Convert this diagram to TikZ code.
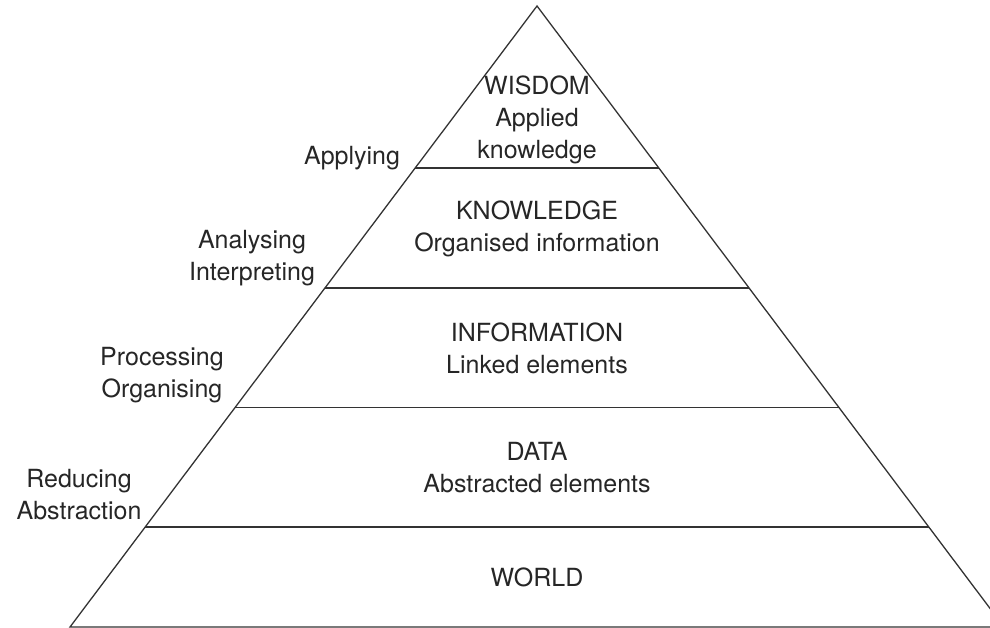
\documentclass[tikz,border=0pt]{standalone}
\usepackage{fontspec}
\setmainfont{TeX Gyre Heros}
\usetikzlibrary{calc}
\begin{document}
\begin{tikzpicture}[x=1pt,y=-1pt]
	\tikzstyle{every node}=[font=\fontsize{25}{32}\selectfont, text=black!85, align=center, inner sep=0pt]
	\tikzstyle{level}=[draw=black!80, line width=1.3pt]
	\useasboundingbox (0,0) rectangle (990,628);
	\clip (0,0) rectangle (990,628);
	\coordinate (apex) at (537,6);
	\coordinate (bl) at (70,627);
	\coordinate (br) at (1004,627);
	\draw[level] (bl) -- (apex) -- (br) -- cycle;
	% the four cuts of the pyramid
	\foreach \t in {0.161,0.354,0.546,0.739}{
		\draw[level] ($(bl)!\t!(apex)$) -- ($(br)!\t!(apex)$);
	}
	\node (wisdom) at (537,120) {WISDOM\\Applied\\knowledge};
	\node (knowledge) at (537,229) {KNOWLEDGE\\Organised information};
	\node (information) at (537,348) {INFORMATION\\Linked elements};
	\node (data) at (537,468) {DATA\\Abstracted elements};
	\node (world) at (537,577) {WORLD};
	% processes on the left
	\node (applying) at (352,158) {Applying};
	\node (analysing) at (252,258) {Analysing\\Interpreting};
	\node (processing) at (162,375) {Processing\\Organising};
	\node (reducing) at (79,495) {Reducing\\Abstraction};
\end{tikzpicture}
\end{document}
